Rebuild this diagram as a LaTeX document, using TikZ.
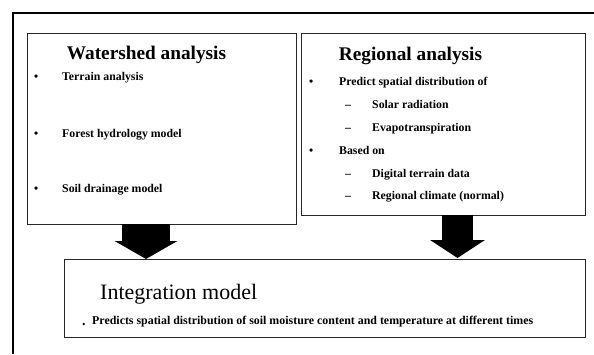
\documentclass[tikz,border=0pt]{standalone}
\usepackage{fontspec}
\setmainfont{Liberation Serif}
\usetikzlibrary{arrows.meta,calc}
\begin{document}
\begin{tikzpicture}[x=1pt,y=-1pt,
  box/.style={draw=black!85,line width=0.8pt},
  head/.style={anchor=base,font=\fontsize{19.3}{21}\selectfont\bfseries},
  item/.style={anchor=base west,inner sep=0pt,font=\fontsize{11.8}{13}\selectfont\bfseries}]
\useasboundingbox (0,0) rectangle (594,354);
\draw[line width=2pt] (13,354) -- (13,13) -- (594,13);
% boxes
\path[box] (27,33) rectangle (296,224);
\coordinate (Lb) at (146,224);
\path[box] (301,33) rectangle (585,215);
\coordinate (Rb) at (457.5,215);
\path[box] (64,259) rectangle (585,337);
\coordinate (Bl) at (146,259);
\coordinate (Br) at (457.5,258);
% left box
\node[head] (wh) at (146.5,59) {Watershed analysis};
\node[item] (b1) at (34,80) {•};
\node[item] (t1) at (62,80) {Terrain analysis};
\node[item] (b2) at (34,137) {•};
\node[item] (t2) at (62,137) {Forest hydrology model};
\node[item] (b3) at (34,192) {•};
\node[item] (t3) at (62,192) {Soil drainage model};
% right box
\node[head] (rh) at (410.5,60) {Regional analysis};
\node[item] (rb1) at (309,85) {•};
\node[item] (rt1) at (339,85) {Predict spatial distribution of};
\node[item] (rd1) at (345,108) {–};
\node[item] (rs1) at (372,108) {Solar radiation};
\node[item] (rd2) at (345,131) {–};
\node[item] (rs2) at (372,131) {Evapotranspiration};
\node[item] (rb2) at (309,154) {•};
\node[item] (rt2) at (339,154) {Based on};
\node[item] (rd3) at (345,177) {–};
\node[item] (rs3) at (372,177) {Digital terrain data};
\node[item] (rd4) at (345,199) {–};
\node[item] (rs4) at (372,199) {Regional climate (normal)};
% bottom box
\node[anchor=base west,inner sep=0pt,font=\fontsize{22}{24}\selectfont] (ih) at (100,299) {Integration model};
\node[anchor=base west,inner sep=0pt,font=\fontsize{14}{16}\selectfont\bfseries] (ib) at (82,325) {.};
\node[item,font=\fontsize{11.9}{13}\selectfont\bfseries] (it) at (92,324) {Predicts spatial distribution of soil moisture content and temperature at different times};
% arrows
\draw[line width=48pt,-{Triangle[width=62pt,length=18pt]}] (Lb) -- (Bl);
\draw[line width=31pt,-{Triangle[width=54pt,length=18pt]}] (Rb) -- (Br);
\end{tikzpicture}
\end{document}
